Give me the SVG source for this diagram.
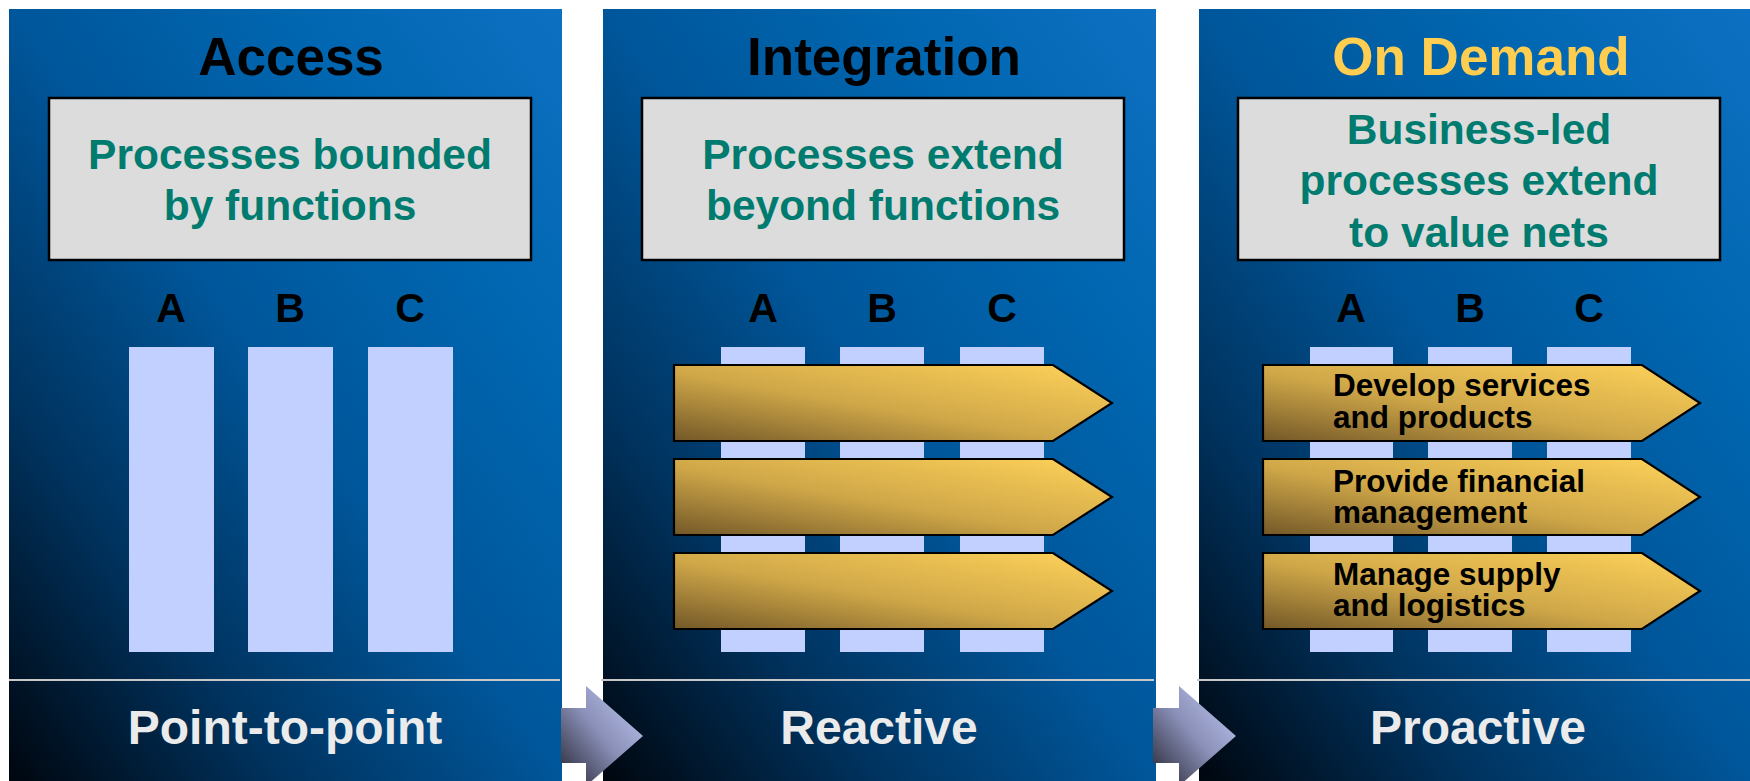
<svg xmlns="http://www.w3.org/2000/svg" width="1750" height="781" viewBox="0 0 1750 781">
<defs>
  <linearGradient id="panelGrad" x1="0" y1="1" x2="1" y2="0">
    <stop offset="0" stop-color="#00060e"/>
    <stop offset="0.25" stop-color="#00335f"/>
    <stop offset="0.5" stop-color="#00569a"/>
    <stop offset="0.75" stop-color="#0066b0"/>
    <stop offset="1" stop-color="#0e70c2"/>
  </linearGradient>
  <linearGradient id="goldGrad" x1="0" y1="1" x2="1" y2="0">
    <stop offset="0" stop-color="#735828"/>
    <stop offset="0.45" stop-color="#cfa748"/>
    <stop offset="1" stop-color="#ffd35a"/>
  </linearGradient>
  <linearGradient id="connGrad" x1="0" y1="1" x2="1" y2="0">
    <stop offset="0" stop-color="#23232e"/>
    <stop offset="0.5" stop-color="#8a90b8"/>
    <stop offset="1" stop-color="#c4ccf6"/>
  </linearGradient>
</defs>
<style>
  text { font-family: "Liberation Sans", Arial, sans-serif; font-weight: bold; }
  .panel { fill: url(#panelGrad); }
  .title { font-size: 53px; fill: #000000; text-anchor: middle; }
  .box { fill: #dcdcdc; stroke: #000000; stroke-width: 2.5; }
  .boxtxt { font-size: 42.5px; fill: #007b6f; text-anchor: middle; }
  .letter { font-size: 41px; fill: #000000; text-anchor: middle; }
  .bar { fill: #c2d0ff; }
  .proc { fill: url(#goldGrad); stroke: #000000; stroke-width: 2.2; stroke-linejoin: miter; }
  .proctxt { font-size: 31.5px; fill: #000000; }
  .divider { stroke: #c8c8c8; stroke-width: 2; }
  .foot { font-size: 48px; fill: #ebebeb; text-anchor: middle; }
  .conn { fill: url(#connGrad); }
</style>

<g id="panel-access">
  <rect class="panel" x="9" y="9" width="553" height="772"/>
  <text class="title" x="291" y="75">Access</text>
  <rect class="box" x="49" y="98" width="482" height="162"/>
  <text class="boxtxt" x="290" y="169">Processes bounded</text>
  <text class="boxtxt" x="290" y="220">by functions</text>
  <text class="letter" x="171" y="322">A</text>
  <text class="letter" x="290" y="322">B</text>
  <text class="letter" x="410" y="322">C</text>
  <rect class="bar" x="129" y="347" width="85" height="305"/>
  <rect class="bar" x="248" y="347" width="85" height="305"/>
  <rect class="bar" x="368" y="347" width="85" height="305"/>
  <line class="divider" x1="9" y1="680" x2="560" y2="680"/>
  <text class="foot" x="285" y="744">Point-to-point</text>
</g>

<g id="panel-integration">
  <rect class="panel" x="603" y="9" width="553" height="772"/>
  <text class="title" x="884" y="75">Integration</text>
  <rect class="box" x="642" y="98" width="482" height="162"/>
  <text class="boxtxt" x="883" y="169">Processes extend</text>
  <text class="boxtxt" x="883" y="220">beyond functions</text>
  <text class="letter" x="763" y="322">A</text>
  <text class="letter" x="882" y="322">B</text>
  <text class="letter" x="1002" y="322">C</text>
  <rect class="bar" x="721" y="347" width="84" height="305"/>
  <rect class="bar" x="840" y="347" width="84" height="305"/>
  <rect class="bar" x="960" y="347" width="84" height="305"/>
  <polygon class="proc" points="674,365 1053,365 1112,403 1053,441 674,441"/>
  <polygon class="proc" points="674,459 1053,459 1112,497 1053,535 674,535"/>
  <polygon class="proc" points="674,553 1053,553 1112,591 1053,629 674,629"/>
  <line class="divider" x1="601" y1="680" x2="1154" y2="680"/>
  <text class="foot" x="879" y="744">Reactive</text>
</g>

<g id="panel-ondemand">
  <rect class="panel" x="1199" y="9" width="551" height="772"/>
  <text class="title" x="1481" y="75" style="fill:#ffcd50">On Demand</text>
  <rect class="box" x="1238" y="98" width="482" height="162"/>
  <text class="boxtxt" x="1479" y="144">Business-led</text>
  <text class="boxtxt" x="1479" y="195">processes extend</text>
  <text class="boxtxt" x="1479" y="247">to value nets</text>
  <text class="letter" x="1351" y="322">A</text>
  <text class="letter" x="1470" y="322">B</text>
  <text class="letter" x="1589" y="322">C</text>
  <rect class="bar" x="1310" y="347" width="83" height="305"/>
  <rect class="bar" x="1428" y="347" width="84" height="305"/>
  <rect class="bar" x="1547" y="347" width="84" height="305"/>
  <g id="proc-develop">
    <polygon class="proc" points="1263,365 1642,365 1700,403 1642,441 1263,441"/>
    <text class="proctxt" x="1333" y="396">Develop services</text>
    <text class="proctxt" x="1333" y="428">and products</text>
  </g>
  <g id="proc-finance">
    <polygon class="proc" points="1263,459 1642,459 1700,497 1642,535 1263,535"/>
    <text class="proctxt" x="1333" y="492">Provide financial</text>
    <text class="proctxt" x="1333" y="523">management</text>
  </g>
  <g id="proc-supply">
    <polygon class="proc" points="1263,553 1642,553 1700,591 1642,629 1263,629"/>
    <text class="proctxt" x="1333" y="585">Manage supply</text>
    <text class="proctxt" x="1333" y="616">and logistics</text>
  </g>
  <line class="divider" x1="1197" y1="680" x2="1750" y2="680"/>
  <text class="foot" x="1478" y="744">Proactive</text>
</g>

<g id="connectors">
  <polygon class="conn" points="561,708 586,708 586,686 643,736 586,786 586,763 561,763"/>
  <polygon class="conn" points="1153,708 1179,708 1179,686 1236,736 1179,786 1179,763 1153,763"/>
</g>
</svg>
